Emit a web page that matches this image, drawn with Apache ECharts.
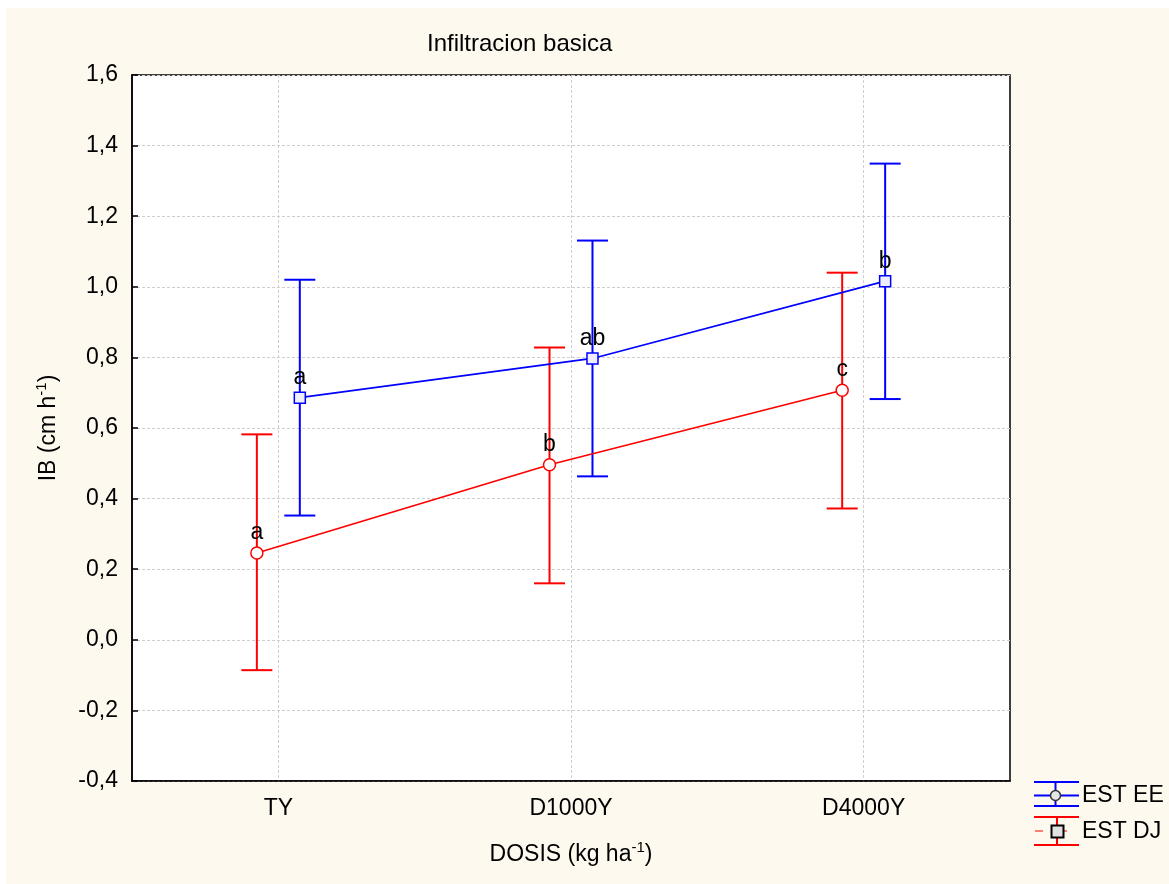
<!DOCTYPE html>
<html>
<head>
<meta charset="utf-8">
<title>Infiltracion basica</title>
<script src="https://cdn.jsdelivr.net/npm/echarts@6/dist/echarts.min.js"></script>
<style>
    html, body { margin: 0; padding: 0; background: #ffffff; }
    #main {
        width: 1169px;
        height: 884px;
        background: #fdf9ee;
        box-shadow: inset 6px 8px 0 #ffffff;
    }
</style>
</head>
<body>
<div id="main"></div>
<script>
// categorias del eje X
const categories = ['TY', 'D1000Y', 'D4000Y'];

// EST EE (rojo, circulos)
const eeMeans = [0.246, 0.496, 0.707];
const eeLow = [-0.086, 0.160, 0.372];
const eeHigh = [0.582, 0.828, 1.040];
const eeLetters = ['a', 'b', 'c'];

// EST DJ (azul, cuadrados)
const djMeans = [0.686, 0.797, 1.016];
const djLow = [0.352, 0.463, 0.682];
const djHigh = [1.020, 1.131, 1.349];
const djLetters = ['a', 'ab', 'b'];

const FONT = '"Liberation Sans", Arial, sans-serif';
const DODGE = 0.0734; // desplazamiento de cada serie respecto a la categoria

const chartDom = document.getElementById('main');
const myChart = echarts.init(chartDom, null, { renderer: 'canvas' });

// barra de error: linea vertical + dos topes
const errorBars = (low, high, shift, color) => ({
    type: 'custom',
    xAxisIndex: 1,
    z: 2,
    silent: true,
    data: low.map((lo, i) => [i + shift, lo, high[i]]),
    encode: { x: 0, y: [1, 2] },
    renderItem: (params, api) => {
        const x = api.value(0);
        const top = api.coord([x, api.value(2)]);
        const bot = api.coord([x, api.value(1)]);
        const half = 15.5;
        const style = { stroke: color, lineWidth: 2 };
        return {
            type: 'group',
            children: [
                { type: 'line', shape: { x1: top[0], y1: top[1], x2: bot[0], y2: bot[1] }, style },
                { type: 'line', shape: { x1: top[0] - half, y1: top[1], x2: top[0] + half, y2: top[1] }, style },
                { type: 'line', shape: { x1: bot[0] - half, y1: bot[1], x2: bot[0] + half, y2: bot[1] }, style }
            ]
        };
    }
});

// linea de medias con letras
const meanLine = (name, means, letters, shift, color, symbol, fill) => ({
    name: name,
    type: 'line',
    xAxisIndex: 1,
    z: 5,
    data: means.map((m, i) => [i + shift, m]),
    symbol: symbol,
    symbolSize: symbol === 'circle' ? 12 : 11,
    showAllSymbol: true,
    lineStyle: { color: color, width: 1.7 },
    itemStyle: { color: fill, borderColor: color, borderWidth: 1.5 },
    label: {
        show: true,
        position: 'top',
        distance: 2,
        fontFamily: FONT,
        fontSize: 23,
        color: '#000',
        formatter: p => letters[p.dataIndex]
    },
    emphasis: { disabled: true }
});

const axisText = { fontFamily: FONT, fontSize: 23, color: '#000' };
const supRich = {
    sup: { fontFamily: FONT, fontSize: 15, lineHeight: 15, color: '#000', verticalAlign: 'bottom', padding: [0, 0, 11, 0] }
};

const option = {
    animation: false,
    title: {
        text: 'Infiltracion basica',
        left: 422,
        top: 27,
        textStyle: { fontFamily: FONT, fontSize: 24, fontWeight: 'normal', color: '#000' }
    },
    grid: {
        left: 132,
        top: 75,
        right: 159,
        bottom: 103,
        show: true,
        backgroundColor: '#ffffff',
        borderColor: '#000',
        borderWidth: 1.5
    },
    xAxis: [
        {
            type: 'category',
            data: categories,
            boundaryGap: true,
            name: 'DOSIS (kg ha{sup|-1})',
            nameLocation: 'middle',
            nameGap: 62,
            nameTextStyle: Object.assign({}, axisText, { rich: supRich }),
            axisLine: { onZero: false, lineStyle: { color: '#000', width: 1.5 } },
            axisTick: { inside: true, length: 6, alignWithLabel: true, lineStyle: { color: '#000', width: 1.5 } },
            axisLabel: Object.assign({ margin: 16 }, axisText),
            splitLine: { show: true, alignWithLabel: true, lineStyle: { color: '#cfcfcf', type: [3, 2], width: 1 } }
        },
        {
            type: 'value',
            min: -0.5,
            max: 2.5,
            show: false,
            axisLine: { onZero: false },
            splitLine: { show: false }
        }
    ],
    yAxis: {
        type: 'value',
        min: -0.4,
        max: 1.6,
        interval: 0.2,
        name: 'IB (cm h{sup|-1})',
        nameLocation: 'middle',
        nameGap: 72,
        nameTextStyle: Object.assign({}, axisText, { rich: supRich }),
        axisLine: { show: true, onZero: false, lineStyle: { color: '#000', width: 1.5 } },
        axisTick: { show: true, inside: true, length: 6, lineStyle: { color: '#000', width: 1.5 } },
        axisLabel: Object.assign({
            margin: 14,
            formatter: v => v.toFixed(1).replace('.', ',')
        }, axisText),
        splitLine: { show: true, lineStyle: { color: '#cfcfcf', type: [3, 2], width: 1 } }
    },
    graphic: [
        // EST EE (azul + circulo, como en la leyenda original)
        { type: 'line', shape: { x1: 1034, y1: 782, x2: 1079, y2: 782 }, style: { stroke: '#0000ff', lineWidth: 2 } },
        { type: 'line', shape: { x1: 1034, y1: 795.5, x2: 1079, y2: 795.5 }, style: { stroke: '#0000ff', lineWidth: 2 } },
        { type: 'line', shape: { x1: 1034, y1: 806, x2: 1079, y2: 806 }, style: { stroke: '#0000ff', lineWidth: 2 } },
        { type: 'line', shape: { x1: 1055.5, y1: 782, x2: 1055.5, y2: 806 }, style: { stroke: '#0000ff', lineWidth: 2 } },
        { type: 'circle', shape: { cx: 1055.5, cy: 795.5, r: 5 }, style: { fill: '#e6e6e6', stroke: '#333', lineWidth: 1.5 } },
        { type: 'text', x: 1082, y: 795.5, style: { text: 'EST EE', fontFamily: FONT, fontSize: 23, fill: '#000', verticalAlign: 'middle' } },
        // EST DJ (rojo + cuadrado)
        { type: 'line', shape: { x1: 1034, y1: 817, x2: 1079, y2: 817 }, style: { stroke: '#ff0000', lineWidth: 2 } },
        { type: 'line', shape: { x1: 1034, y1: 845, x2: 1079, y2: 845 }, style: { stroke: '#ff0000', lineWidth: 2 } },
        { type: 'line', shape: { x1: 1057, y1: 817, x2: 1057, y2: 845 }, style: { stroke: '#ff0000', lineWidth: 2 } },
        { type: 'line', shape: { x1: 1035, y1: 831, x2: 1043, y2: 831 }, style: { stroke: '#ff0000', lineWidth: 1 } },
        { type: 'line', shape: { x1: 1062, y1: 831, x2: 1067, y2: 831 }, style: { stroke: '#ff0000', lineWidth: 1 } },
        { type: 'rect', shape: { x: 1051.5, y: 825.5, width: 12, height: 12 }, style: { fill: '#e0e0e0', stroke: '#000', lineWidth: 2 } },
        { type: 'text', x: 1082, y: 832, style: { text: 'EST DJ', fontFamily: FONT, fontSize: 23, fill: '#000', verticalAlign: 'middle' } }
    ],
    series: [
        errorBars(eeLow, eeHigh, -DODGE, '#ff0000'),
        errorBars(djLow, djHigh, DODGE, '#0000ff'),
        meanLine('EST EE', eeMeans, eeLetters, -DODGE, '#ff0000', 'circle', '#ffffff'),
        meanLine('EST DJ', djMeans, djLetters, DODGE, '#0000ff', 'rect', '#eeeeff')
    ]
};

option && myChart.setOption(option);
</script>
</body>
</html>
